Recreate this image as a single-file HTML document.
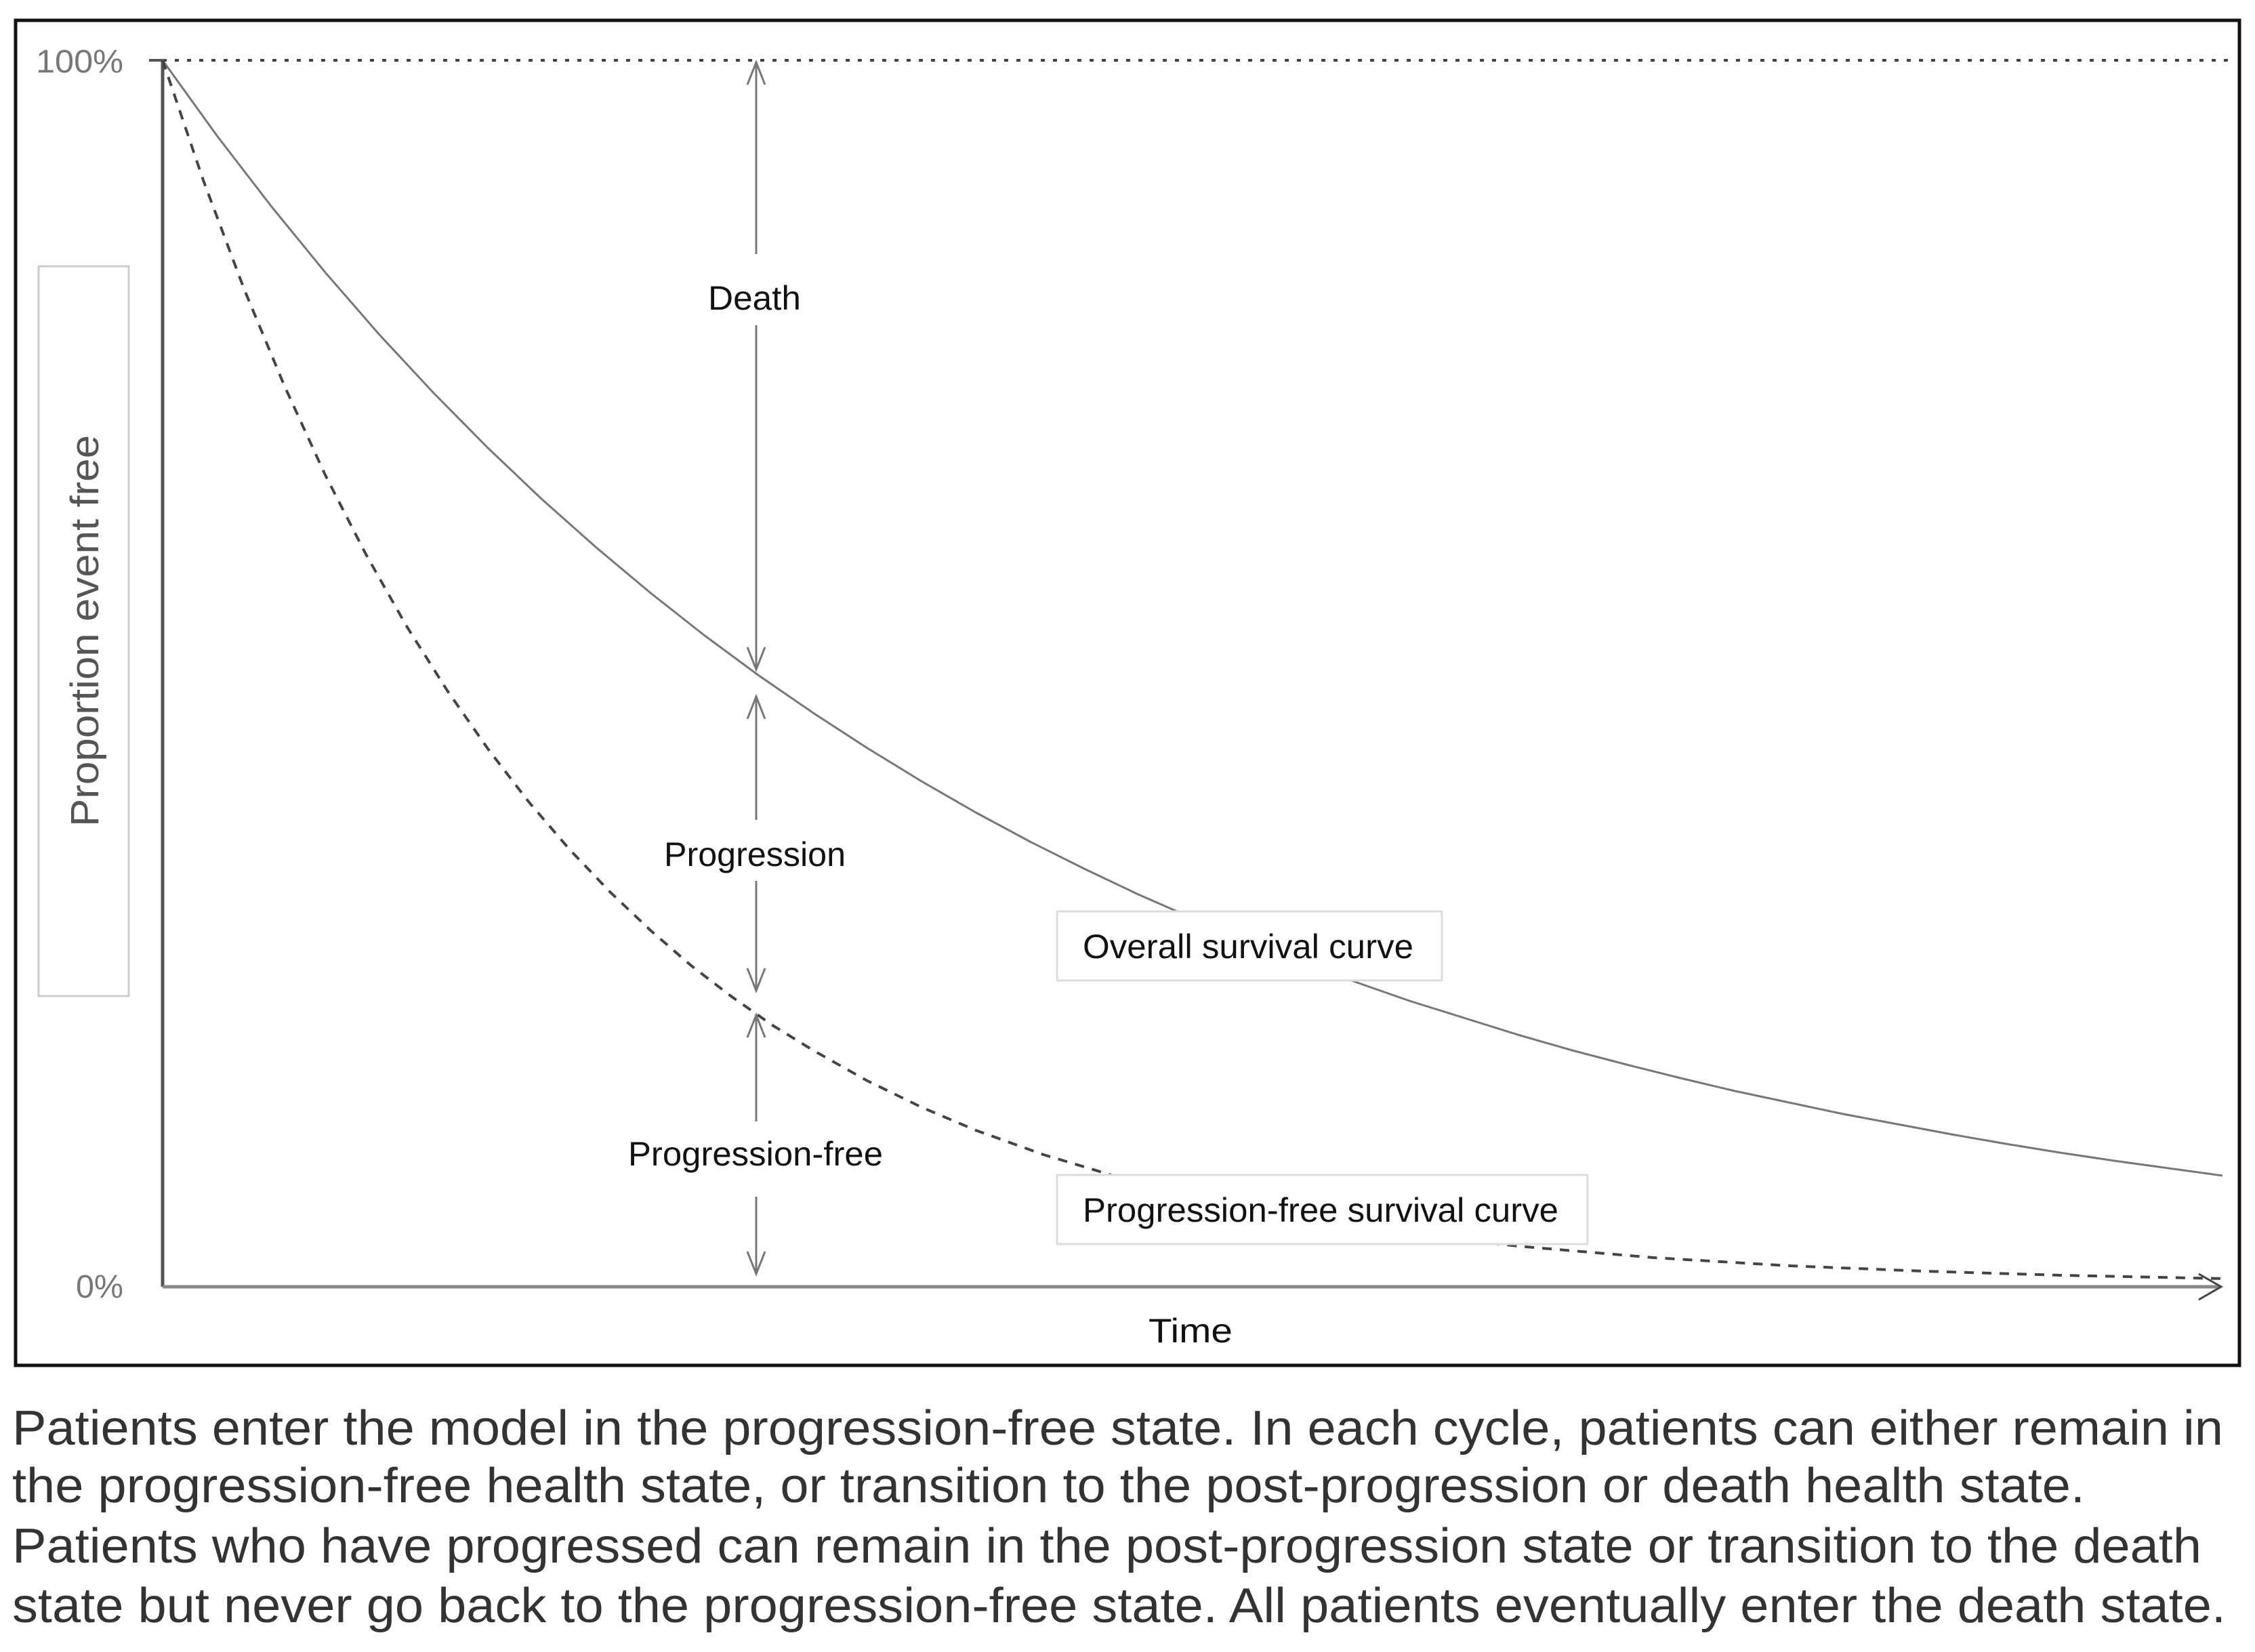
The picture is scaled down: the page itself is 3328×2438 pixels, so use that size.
<!DOCTYPE html>
<html><head><meta charset="utf-8"><style>html,body{margin:0;padding:0;background:#fff;}svg{display:block}</style></head>
<body>
<svg width="3328" height="2438" viewBox="0 0 3328 2438" xmlns="http://www.w3.org/2000/svg">
<rect x="0" y="0" width="3328" height="2438" fill="#fff"/>
<rect x="23" y="30" width="3282" height="1985" fill="#fff" stroke="#111" stroke-width="5"/>
<rect x="57" y="393" width="133" height="1077" fill="#fff" stroke="#ccc" stroke-width="3"/>
<text transform="translate(145,931) rotate(-90)" text-anchor="middle" font-family="Liberation Sans Narrow, Liberation Sans, sans-serif" font-size="58" fill="#555" textLength="578" lengthAdjust="spacingAndGlyphs">Proportion event free</text>
<text x="53" y="107" font-family="Liberation Sans, sans-serif" font-size="48" fill="#777" textLength="129" lengthAdjust="spacingAndGlyphs">100%</text>
<text x="112" y="1915" font-family="Liberation Sans, sans-serif" font-size="48" fill="#777" textLength="70" lengthAdjust="spacingAndGlyphs">0%</text>
<line x1="240" y1="89" x2="3290" y2="89" stroke="#444" stroke-width="4" stroke-dasharray="6,12"/>
<line x1="220" y1="89" x2="242" y2="89" stroke="#555" stroke-width="4"/>
<line x1="240" y1="89" x2="240" y2="1899" stroke="#555" stroke-width="5"/>
<line x1="240" y1="1899" x2="3275" y2="1899" stroke="#888" stroke-width="5"/>
<polyline points="3245,1880 3278,1899 3245,1918" fill="none" stroke="#444" stroke-width="3"/>
<polyline fill="none" stroke="#777" stroke-width="3" stroke-linejoin="round" points="240,89 320,200 400,304 480,402 560,494 640,580 720,661 800,737 880,808 960,875 1040,938 1120,997 1200,1052 1280,1104 1360,1153 1440,1199 1520,1242 1600,1282 1680,1320 1760,1355 1840,1388 1920,1420 2000,1449 2080,1477 2160,1502 2240,1527 2320,1550 2400,1571 2480,1591 2560,1610 2640,1627 2720,1644 2800,1659 2880,1674 2960,1688 3040,1701 3120,1713 3200,1724 3280,1735"/>
<polyline fill="none" stroke="#444" stroke-width="4" stroke-dasharray="14,12" stroke-linejoin="round" points="240,89 300,266 360,426 420,570 480,701 540,818 600,924 660,1019 720,1105 780,1183 840,1253 900,1316 960,1373 1020,1425 1080,1471 1140,1513 1200,1550 1280,1595 1360,1634 1440,1668 1540,1704 1640,1734 1740,1760 1840,1781 1940,1800 2040,1815 2140,1828 2240,1839 2440,1856 2640,1868 2840,1876 3040,1882 3280,1887"/>
<g stroke="#777" stroke-width="3" fill="none">
<line x1="1116" y1="92" x2="1116" y2="375"/><line x1="1116" y1="480" x2="1116" y2="988"/>
<polyline points="1103,125 1116,92 1129,125"/><polyline points="1103,955 1116,988 1129,955"/>
<line x1="1116" y1="1028" x2="1116" y2="1210"/><line x1="1116" y1="1300" x2="1116" y2="1462"/>
<polyline points="1103,1061 1116,1028 1129,1061"/><polyline points="1103,1429 1116,1462 1129,1429"/>
<line x1="1116" y1="1498" x2="1116" y2="1655"/><line x1="1116" y1="1766" x2="1116" y2="1880"/>
<polyline points="1103,1531 1116,1498 1129,1531"/><polyline points="1103,1847 1116,1880 1129,1847"/>
</g>
<g font-family="Liberation Sans Narrow, Liberation Sans, sans-serif" font-size="50" fill="#111">
<text x="1045" y="457" textLength="137" lengthAdjust="spacingAndGlyphs">Death</text>
<text x="980" y="1278" textLength="268" lengthAdjust="spacingAndGlyphs">Progression</text>
<text x="927" y="1720" textLength="376" lengthAdjust="spacingAndGlyphs">Progression-free</text>
<text x="1695" y="1981" textLength="124" lengthAdjust="spacingAndGlyphs">Time</text>
</g>
<rect x="1560" y="1345" width="568" height="102" fill="#fff" stroke="#ddd" stroke-width="3"/>
<rect x="1560" y="1734" width="783" height="102" fill="#fff" stroke="#ddd" stroke-width="3"/>
<g font-family="Liberation Sans Narrow, Liberation Sans, sans-serif" font-size="50" fill="#111">
<text x="1598" y="1414" textLength="488" lengthAdjust="spacingAndGlyphs">Overall survival curve</text>
<text x="1598" y="1803" textLength="702" lengthAdjust="spacingAndGlyphs">Progression-free survival curve</text>
</g>
<g font-family="Liberation Sans, sans-serif" font-size="72" fill="#333">
<text x="18" y="2132" textLength="3263" lengthAdjust="spacingAndGlyphs">Patients enter the model in the progression-free state. In each cycle, patients can either remain in</text>
<text x="18" y="2217" textLength="3059" lengthAdjust="spacingAndGlyphs">the progression-free health state, or transition to the post-progression or death health state.</text>
<text x="18" y="2306" textLength="3231" lengthAdjust="spacingAndGlyphs">Patients who have progressed can remain in the post-progression state or transition to the death</text>
<text x="18" y="2394" textLength="3267" lengthAdjust="spacingAndGlyphs">state but never go back to the progression-free state. All patients eventually enter the death state.</text>
</g>
</svg>
</body></html>
